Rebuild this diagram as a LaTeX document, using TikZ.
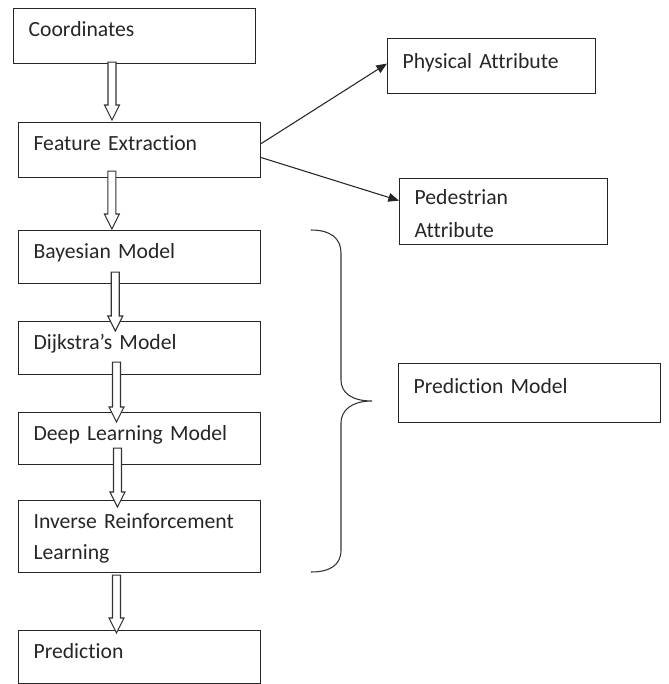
\documentclass[tikz,border=0pt]{standalone}
\usepackage{fontspec}
\setmainfont{Carlito}[Ligatures=NoCommon]
\usetikzlibrary{calc,arrows.meta}
\tikzset{
  box/.style={draw=black!85, line width=0.9pt, anchor=north west, align=left,
    inner xsep=11.25pt, inner ysep=0pt, text height=21pt, text width=159pt,
    text=black!85, font=\fontsize{16.25}{23.5}\selectfont},
  hollow/.style={draw=black!80, line width=0.8pt, fill=white, line join=miter},
  thinarrow/.style={draw=black!85, line width=0.8pt, -{Triangle[length=8pt,width=6.5pt]}},
  bracket/.style={draw=black!80, line width=0.8pt}
}
% hollow block arrow: from, to, position on the lower edge, top offset, tip offset
\newcommand{\blockarrow}[5]{%
  \coordinate (ba-s) at ($(#1.south west)!#3!(#1.south east)$);
  \coordinate (ba-t) at (ba-s |- #2.north);
  \draw[hollow] ($(ba-s)+(-4,#4)$) -- ($(ba-t)+(-4,#5-15)$) -- ($(ba-t)+(-7.5,#5-15)$)
    -- ($(ba-t)+(0,#5)$) -- ($(ba-t)+(7.5,#5-15)$) -- ($(ba-t)+(4,#5-15)$)
    -- ($(ba-s)+(4,#4)$) -- cycle;}

\begin{document}
\begin{tikzpicture}[x=0.75pt, y=-0.75pt]
		%%%%% START %%%%%
		\useasboundingbox (0,0) rectangle (668,684);
		
		\node[box, text depth=20.25pt] (coords) at (13,8) {Coordinates};
		\node[box, text depth=20.25pt] (feat) at (18,122) {Feature Extraction};
		\node[box, text depth=18.75pt] (bayes) at (18,230) {Bayesian Model};
		\node[box, text depth=18.75pt] (dijk) at (18,321) {Dijkstra’s Model};
		\node[box, text depth=18pt] (deep) at (18,412) {Deep Learning Model};
		\node[box, text depth=33pt] (irl) at (18,500) {Inverse Reinforcement\\Learning};
		\node[box, text depth=18.75pt] (pred) at (18,630) {Prediction};
		
		\node[box, text width=133.5pt, text height=22.5pt, text depth=18.75pt] (phys) at (387,38) {Physical Attribute};
		\node[box, text width=133.5pt, text height=19.5pt, text depth=30pt, font=\fontsize{16.25}{24.75}\selectfont] (ped) at (399,178) {Pedestrian\\Attribute};
		\node[box, text width=174pt, text height=22.5pt, text depth=21.75pt] (predmodel) at (398,363) {Prediction Model};
		
		\blockarrow{coords}{feat}{0.407}{-2}{-2}
		\blockarrow{feat}{bayes}{0.386}{-7}{-1}
		\blockarrow{bayes}{dijk}{0.40}{-12}{10}
		\blockarrow{dijk}{deep}{0.405}{-13}{10}
		\blockarrow{deep}{irl}{0.409}{-17}{7}
		\blockarrow{irl}{pred}{0.405}{2}{3}
		
		\draw[thinarrow] ([yshift=4.9pt]feat.east) -- ([yshift=1.9pt]phys.west);
		\draw[thinarrow] ([yshift=-5.6pt]feat.east) -- ([yshift=8.25pt]ped.west);
		
		\draw[bracket] (311,230) .. controls (330,230) and (341,238) .. (341,253) -- (341,380)
			.. controls (341,393) and (352,401) .. (372,401)
			.. controls (352,401) and (341,410) .. (341,423) -- (341,550)
			.. controls (341,565) and (330,572) .. (311,572);
		
		%%%%% END %%%%%
\end{tikzpicture}
\end{document}
